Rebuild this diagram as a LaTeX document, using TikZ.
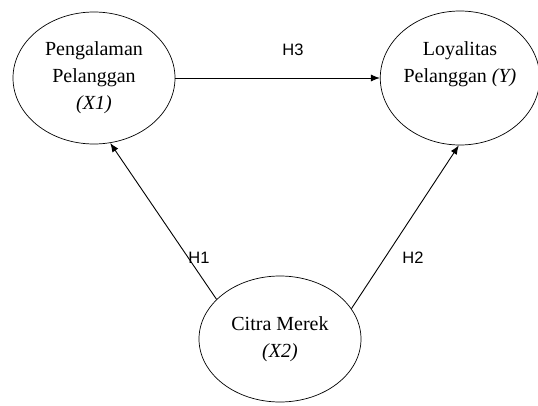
\documentclass[tikz,border=0pt]{standalone}
\usepackage{fontspec}
\setmainfont{Liberation Serif}
\newfontfamily\hfont{Liberation Sans}
\usetikzlibrary{shapes.geometric}
\usetikzlibrary{arrows.meta}

\begin{document}
\begin{tikzpicture}[x=1pt, y=1pt, thick,
        main/.style = {draw, ellipse, line width=0.7pt, align=center, inner sep=0pt,
            font=\fontsize{20}{27}\selectfont},
        hyp/.style = {font=\hfont\fontsize{16.5}{18}\selectfont},
        every path/.style = {line width=0.9pt}]
        \useasboundingbox (0,0) rectangle (538,405);
        \node[main, minimum width=162pt, minimum height=132pt] (x1) at (94,327) {Pengalaman\\Pelanggan\\\textit{(X1)}};
        \node[main, minimum width=156pt, minimum height=134pt] (y) at (460,327) {Loyalitas\\Pelanggan \textit{(Y)}\\[4pt]};
        \node[main, minimum width=162pt, minimum height=126pt] (x2) at (280,66) {Citra Merek\\\textit{(X2)}};
        \node[hyp] (h3) at (293,355) {H3};
        \node[hyp] (h1) at (199,147) {H1};
        \node[hyp] (h2) at (413,147) {H2};
        \draw (x1.east) [-{Latex[length=9pt,width=7pt]}] to (y.west);
        \draw (x2.148) [-{Latex[length=9pt,width=7pt]}] to (x1.-76);
        \draw (x2.23) [-{Latex[length=9pt,width=7pt]}] to (y.-91);
    \end{tikzpicture}
\end{document}
